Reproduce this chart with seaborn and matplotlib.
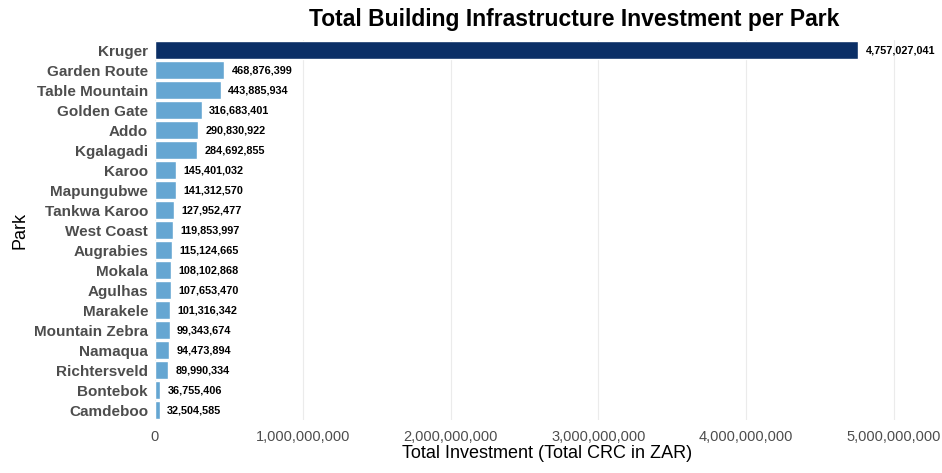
import pandas as pd
import matplotlib.pyplot as plt
import seaborn as sns
from matplotlib.ticker import FuncFormatter

# Datos
parques = ['Kruger', 'Garden Route', 'Table Mountain', 'Golden Gate', 'Addo', 'Kgalagadi',
           'Karoo', 'Mapungubwe', 'Tankwa Karoo', 'West Coast', 'Augrabies', 'Mokala',
           'Agulhas', 'Marakele', 'Mountain Zebra', 'Namaqua', 'Richtersveld', 'Bontebok',
           'Camdeboo']
inversion = [4757027041, 468876399, 443885934, 316683401, 290830922, 284692855,
             145401032, 141312570, 127952477, 119853997, 115124665, 108102868,
             107653470, 101316342, 99343674, 94473894, 89990334, 36755406,
             32504585]

data = pd.DataFrame({'Park': parques, 'Investment': inversion})
data['Top'] = ['top' if p == 'Kruger' else 'other' for p in parques]

sns.set_style('white')
plt.rcParams['font.family'] = ['Liberation Sans', 'DejaVu Sans']

fig, ax = plt.subplots(figsize=(9.42, 4.73), dpi=100)
fig.subplots_adjust(left=0.1645, right=0.996, top=0.915, bottom=0.112)

sns.barplot(data=data, x='Investment', y='Park', hue='Top',
            palette={'top': '#0b2f66', 'other': '#65a6d2'}, saturation=1,
            order=parques, dodge=False, width=0.88, legend=False, ax=ax, zorder=2)

for i, v in enumerate(inversion):
    ax.text(v + 5e7, i, f'{v:,}', va='center', ha='left', fontsize=7.8,
            fontweight='bold', color='black')

ax.set_xlim(0, 5.3e9)
ax.set_xticks([0, 1e9, 2e9, 3e9, 4e9, 5e9])
ax.xaxis.set_major_formatter(FuncFormatter(lambda x, p: f'{int(x):,}'))
ax.grid(axis='x', color='#ebebeb', linewidth=0.8, zorder=0)
ax.grid(axis='y', visible=False)
for s in ax.spines.values():
    s.set_visible(False)
ax.tick_params(axis='x', labelsize=10.5, labelcolor='#4d4d4d', length=0, pad=7)
ax.tick_params(axis='y', length=0, pad=5)
for lbl in ax.get_yticklabels():
    lbl.set_fontweight('bold')
    lbl.set_fontsize(11)
    lbl.set_color('#4d4d4d')

ax.set_xlabel('Total Investment (Total CRC in ZAR)', fontsize=13, color='black', labelpad=1)
ax.set_ylabel('Park', fontsize=13, color='black')
ax.set_title('Total Building Infrastructure Investment per Park', fontsize=16.5,
             fontweight='bold', color='black', pad=10, x=0.535)

plt.savefig('out.png', dpi=100)
